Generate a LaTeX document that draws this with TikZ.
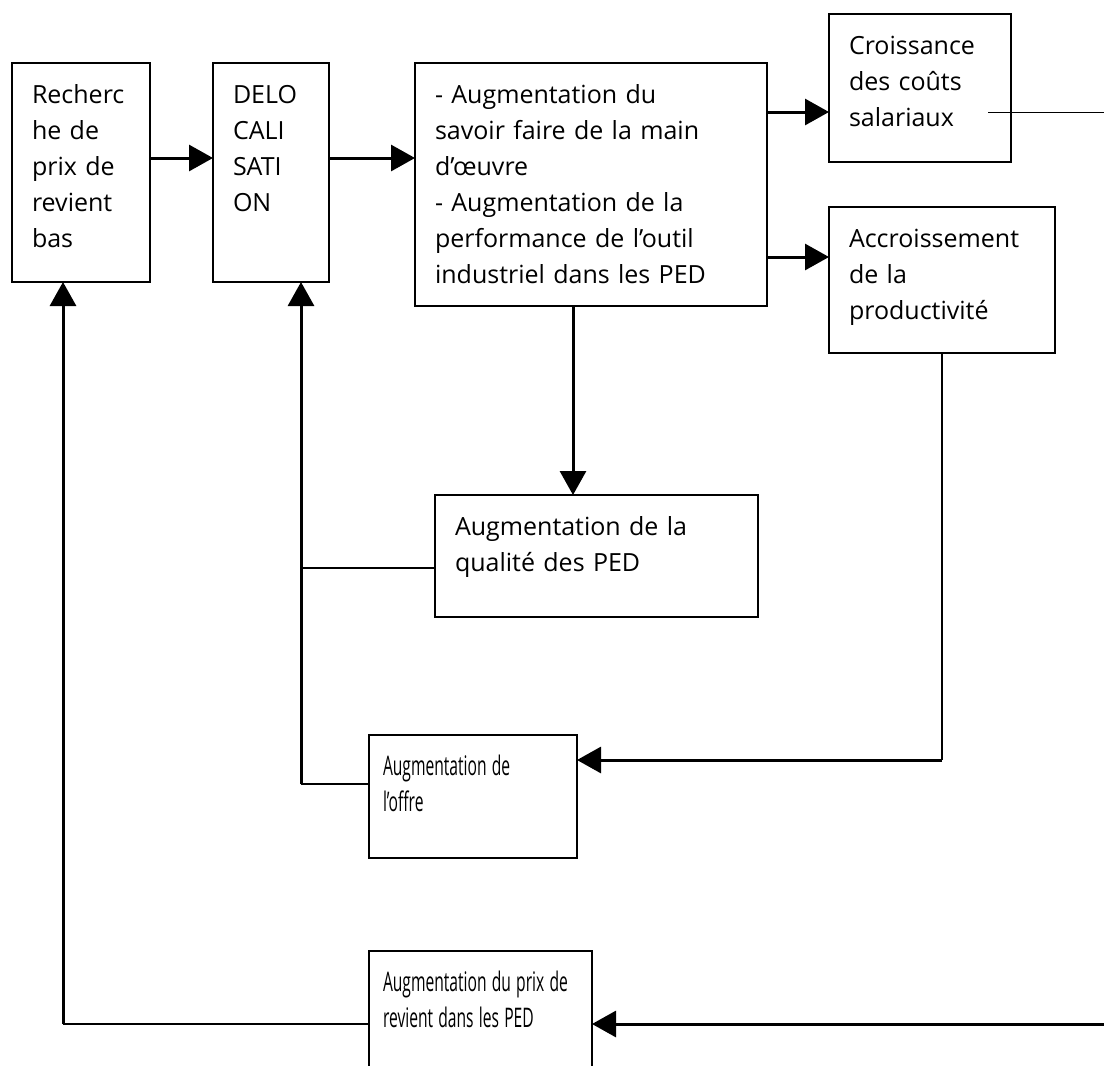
\documentclass[tikz,border=0pt]{standalone}
\usepackage{fontspec}
\setmainfont{Open Sans}
\usepackage{graphicx}
\usetikzlibrary{arrows.meta}

\hyphenpenalty=10000
\exhyphenpenalty=10000
\newcommand{\serre}[1]{\scalebox{0.625}[1.08]{#1}}

\begin{document}
\begin{tikzpicture}[x=1pt,y=-1pt,
  boite/.style={draw,line width=2.2pt,anchor=north west,outer sep=0pt,align=left,
    inner xsep=20pt,inner ysep=0pt,text height=40pt,
    font=\fontsize{25}{36}\selectfont},
  serree/.style={inner xsep=14pt},
  fleche/.style={line width=3pt,-{Triangle[length=24pt,width=26pt]}},
  trait/.style={line width=2pt}]
\clip (0,0) rectangle (1104,1066);
% les cases
\node[boite,text width=98pt,text depth=179pt] (recherche) at (12,63) {Recherc\\he de\\prix de\\revient\\bas};
\node[boite,text width=76pt,text depth=179pt] (deloc) at (213,63) {DELO\\CALI\\SATI\\ON};
\node[boite,text width=312pt,text depth=203pt] (savoir) at (415,63) {- Augmentation du\\savoir faire de la main\\d’œuvre\\- Augmentation de la\\performance de l’outil\\industriel dans les PED};
\node[boite,text width=142pt,text depth=108pt] (couts) at (829,14) {Croissance\\des coûts\\salariaux};
\node[boite,text width=186pt,text depth=106pt] (productivite) at (829,207) {Accroissement\\de la\\productivité};
\node[boite,text width=283pt,text depth=82pt] (qualite) at (435,495) {Augmentation de la\\qualité des PED};
\node[boite,serree,text width=180pt,text depth=83pt] (offre) at (369,735) {\serre{Augmentation de}\\\serre{l’offre}};
\node[boite,serree,text width=195pt,text depth=106pt] (prix) at (369,951) {\serre{Augmentation du prix de}\\\serre{revient dans les PED}};
% points de passage
\coordinate (pied) at ([xshift=30pt]deloc.south);
\coordinate (pied2) at ([xshift=-18pt]recherche.south);
\coordinate (o1) at ([yshift=12.5pt]offre.west);
\coordinate (o2) at ([yshift=36.5pt]offre.east);
\coordinate (q1) at ([yshift=-12pt]qualite.west);
\coordinate (c1) at ([xshift=-23pt,yshift=-24pt]couts.east);
\coordinate (bord) at (1124,0);
% fleches du haut
\draw[fleche] ([yshift=14.5pt]recherche.east) -- ([yshift=14.5pt]recherche.east -| deloc.west);
\draw[fleche] ([yshift=14.5pt]deloc.east) -- ([yshift=14.5pt]deloc.east -| savoir.west);
\draw[fleche] ([yshift=-24pt]couts.west -| savoir.east) -- ([yshift=-24pt]couts.west);
\draw[fleche] ([yshift=23pt]productivite.west -| savoir.east) -- ([yshift=23pt]productivite.west);
\draw[fleche] ([xshift=-18pt]savoir.south) -- ([xshift=-18pt]savoir.south |- qualite.north);
% retours
\draw[trait] (q1) -- (q1 -| pied);
\draw[trait] (o1) -- (o1 -| pied);
\draw[fleche] (o1 -| pied) -- (pied);
\draw[trait] (productivite.south) -- (productivite.south |- o2);
\draw[fleche] (productivite.south |- o2) -- (o2);
\draw[trait] (prix.west) -- (prix.west -| pied2);
\draw[fleche] (prix.west -| pied2) -- (pied2);
\draw[line width=1pt] (c1) -- (c1 -| bord) -- (bord |- prix.east);
\draw[fleche] (bord |- prix.east) -- (prix.east);
\end{tikzpicture}
\end{document}
